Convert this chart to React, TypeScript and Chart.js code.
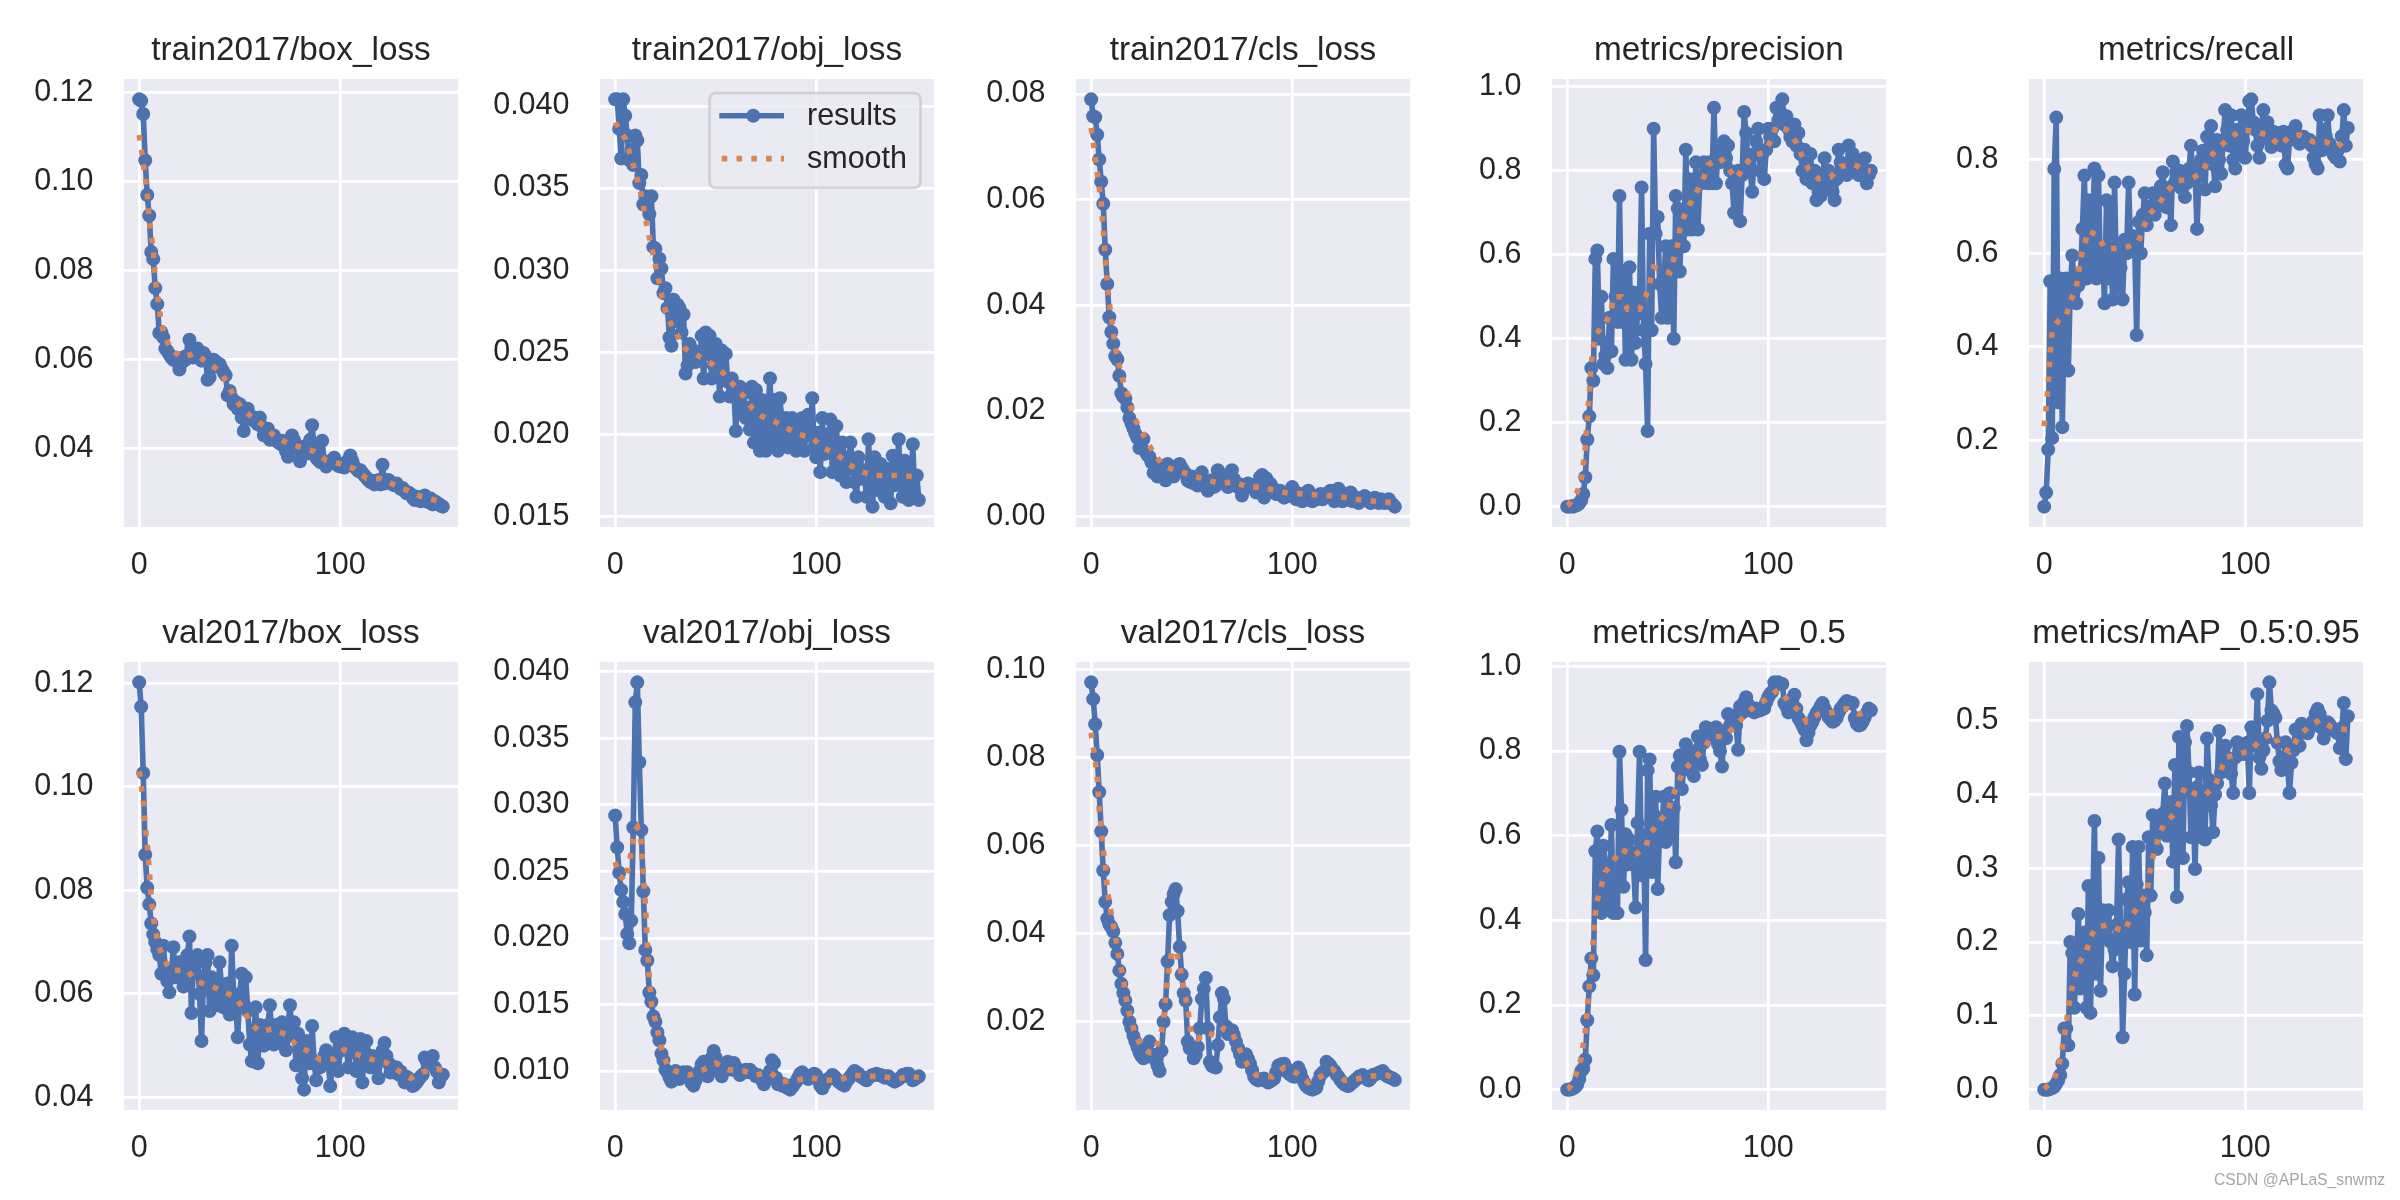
import React, { useEffect, useRef } from 'react';
import { Chart, registerables } from 'chart.js';

Chart.register(...registerables);

// ---------------- data (one value per epoch 0..151) ----------------
const trainBoxLoss = [
  0.1185, 0.1182, 0.1152, 0.1048, 0.0970, 0.0924, 0.0842, 0.0826, 0.0761, 0.0725,
  0.0660, 0.0662, 0.0650, 0.0625, 0.0620, 0.0612, 0.0605, 0.0600, 0.0598, 0.0604,
  0.0578, 0.0592, 0.0605, 0.0600, 0.0610, 0.0645, 0.0628, 0.0605, 0.0620, 0.0625,
  0.0612, 0.0598, 0.0615, 0.0608, 0.0555, 0.0560, 0.0582, 0.0600, 0.0596, 0.0585,
  0.0590, 0.0580, 0.0572, 0.0565, 0.0520, 0.0530, 0.0515, 0.0500, 0.0505, 0.0490,
  0.0500, 0.0470, 0.0440, 0.0480, 0.0490, 0.0475, 0.0465, 0.0470, 0.0460, 0.0455,
  0.0470, 0.0450, 0.0430, 0.0440, 0.0445, 0.0420, 0.0425, 0.0430, 0.0420, 0.0415,
  0.0412, 0.0418, 0.0405, 0.0395, 0.0382, 0.0410, 0.0430, 0.0420, 0.0405, 0.0398,
  0.0372, 0.0385, 0.0405, 0.0395, 0.0390, 0.0420, 0.0453, 0.0400, 0.0380, 0.0375,
  0.0370, 0.0418, 0.0372, 0.0360, 0.0365, 0.0370, 0.0375, 0.0380, 0.0368, 0.0362,
  0.0360, 0.0362, 0.0358, 0.0370, 0.0375, 0.0385, 0.0372, 0.0360, 0.0355, 0.0350,
  0.0352, 0.0345, 0.0340, 0.0335, 0.0330, 0.0325, 0.0328, 0.0320, 0.0325, 0.0330,
  0.0320, 0.0364, 0.0322, 0.0325, 0.0330, 0.0325, 0.0320, 0.0318, 0.0322, 0.0315,
  0.0310, 0.0312, 0.0305, 0.0300, 0.0302, 0.0298, 0.0290, 0.0285, 0.0292, 0.0288,
  0.0282, 0.0290, 0.0295, 0.0285, 0.0280, 0.0288, 0.0275, 0.0282, 0.0278, 0.0276, 0.0272, 0.0270,
];
const trainBoxSmooth = [
  [0, 0.1105], [2, 0.1045], [4, 0.0975], [5, 0.0912], [7, 0.0848], [8, 0.0781], [10, 0.0713],
  [11, 0.0682], [13, 0.065], [16, 0.0622], [21, 0.0606], [28, 0.0614], [34, 0.0593], [40, 0.0575],
  [44, 0.0547], [47, 0.0519], [51, 0.0491], [56, 0.0471], [62, 0.0452], [67, 0.0429], [74, 0.0412],
  [80, 0.0404], [87, 0.0394], [93, 0.0374], [100, 0.0366], [107, 0.0355], [113, 0.0334],
  [120, 0.0333], [126, 0.0321], [133, 0.0307], [140, 0.0293], [147, 0.0285], [151, 0.028],
];

const trainObjLoss = [
  0.0404, 0.0404, 0.0386, 0.0368, 0.0404, 0.0394, 0.0382, 0.0367, 0.0373, 0.0364,
  0.0382, 0.0379, 0.0353, 0.0358, 0.0340, 0.0345, 0.0344, 0.0334, 0.0345, 0.0314,
  0.0313, 0.0295, 0.0307, 0.0301, 0.0286, 0.0289, 0.0277, 0.0259, 0.0254, 0.0282,
  0.0269, 0.0279, 0.0277, 0.0262, 0.0273, 0.0237, 0.0242, 0.0255, 0.0249, 0.0251,
  0.0244, 0.0249, 0.0245, 0.0260, 0.0234, 0.0262, 0.0249, 0.0260, 0.0234, 0.0242,
  0.0255, 0.0245, 0.0223, 0.0251, 0.0234, 0.0249, 0.0232, 0.0223, 0.0234, 0.0227,
  0.0202, 0.0225, 0.0229, 0.0214, 0.0225, 0.0210, 0.0216, 0.0203, 0.0229, 0.0195,
  0.0227, 0.0214, 0.0190, 0.0221, 0.0201, 0.0190, 0.0216, 0.0234, 0.0195, 0.0221,
  0.0208, 0.0190, 0.0222, 0.0205, 0.0197, 0.0210, 0.0192, 0.0203, 0.0210, 0.0199,
  0.0190, 0.0205, 0.0195, 0.0210, 0.0190, 0.0202, 0.0212, 0.0199, 0.0222, 0.0192,
  0.0186, 0.0201, 0.0177, 0.0210, 0.0188, 0.0200, 0.0195, 0.0209, 0.0177, 0.0190,
  0.0205, 0.0184, 0.0175, 0.0195, 0.0186, 0.0171, 0.0179, 0.0195, 0.0184, 0.0171,
  0.0162, 0.0186, 0.0179, 0.0173, 0.0175, 0.0162, 0.0197, 0.0166, 0.0156, 0.0186,
  0.0173, 0.0166, 0.0182, 0.0169, 0.0162, 0.0179, 0.0173, 0.0158, 0.0187, 0.0169,
  0.0175, 0.0197, 0.0169, 0.0162, 0.0184, 0.0179, 0.0160, 0.0164, 0.0194, 0.0162, 0.0175, 0.0160,
];
const trainObjSmooth = [
  [0, 0.039], [1, 0.0388], [5, 0.038], [9, 0.0364], [13, 0.0346], [15, 0.0332], [17, 0.032],
  [20, 0.0303], [22, 0.0292], [24, 0.0279], [27, 0.0269], [31, 0.026], [35, 0.0252], [41, 0.0248],
  [48, 0.0243], [54, 0.0237], [59, 0.023], [64, 0.0223], [68, 0.0216], [73, 0.0211], [79, 0.0208],
  [85, 0.0204], [91, 0.02], [98, 0.0198], [103, 0.0192], [110, 0.0188], [116, 0.0182],
  [121, 0.0178], [128, 0.0175], [135, 0.0175], [142, 0.0175], [151, 0.0174],
];

const trainClsLoss = [
  0.0790, 0.0758, 0.0756, 0.0723, 0.0676, 0.0634, 0.0592, 0.0505, 0.0440, 0.0377,
  0.0349, 0.0327, 0.0303, 0.0297, 0.0266, 0.0233, 0.0226, 0.0223, 0.0206, 0.0186,
  0.0176, 0.0166, 0.0156, 0.0148, 0.0129, 0.0142, 0.0146, 0.0122, 0.0116, 0.0112,
  0.0102, 0.0082, 0.0085, 0.0075, 0.0079, 0.0087, 0.0095, 0.0068, 0.0099, 0.0089,
  0.0082, 0.0075, 0.0090, 0.0095, 0.0099, 0.0092, 0.0085, 0.0080, 0.0068, 0.0065,
  0.0075, 0.0062, 0.0068, 0.0058, 0.0065, 0.0083, 0.0062, 0.0055, 0.0048, 0.0062,
  0.0068, 0.0055, 0.0058, 0.0087, 0.0072, 0.0066, 0.0075, 0.0062, 0.0055, 0.0058,
  0.0087, 0.0070, 0.0062, 0.0055, 0.0060, 0.0039, 0.0052, 0.0055, 0.0062, 0.0058,
  0.0055, 0.0052, 0.0045, 0.0062, 0.0074, 0.0078, 0.0035, 0.0072, 0.0048, 0.0062,
  0.0055, 0.0048, 0.0042, 0.0045, 0.0048, 0.0038, 0.0035, 0.0042, 0.0045, 0.0038,
  0.0055, 0.0048, 0.0032, 0.0035, 0.0042, 0.0028, 0.0035, 0.0045, 0.0048, 0.0038,
  0.0028, 0.0035, 0.0032, 0.0038, 0.0042, 0.0032, 0.0035, 0.0038, 0.0045, 0.0048,
  0.0042, 0.0028, 0.0032, 0.0052, 0.0035, 0.0028, 0.0042, 0.0032, 0.0035, 0.0045,
  0.0028, 0.0032, 0.0035, 0.0025, 0.0032, 0.0035, 0.0038, 0.0032, 0.0028, 0.0025,
  0.0032, 0.0035, 0.0028, 0.0025, 0.0032, 0.0028, 0.0025, 0.0028, 0.0032, 0.0025, 0.0022, 0.0018,
];
const trainClsSmooth = [
  [0, 0.0736], [1, 0.0709], [3, 0.0652], [5, 0.0595], [6, 0.0542], [7, 0.0485], [9, 0.0404],
  [11, 0.035], [12, 0.032], [15, 0.0266], [18, 0.0233], [21, 0.0189], [25, 0.0162], [28, 0.0139],
  [32, 0.0115], [36, 0.0095], [43, 0.0085], [49, 0.0079], [57, 0.0069], [64, 0.0062], [71, 0.0065],
  [78, 0.0055], [85, 0.0055], [92, 0.0048], [99, 0.0043], [107, 0.0042], [113, 0.004],
  [121, 0.0038], [127, 0.0035], [135, 0.003], [142, 0.0028], [151, 0.0025],
];

const precision = [
  0.000, 0.000, 0.001, 0.000, 0.002, 0.004, 0.008, 0.015, 0.030, 0.070,
  0.160, 0.215, 0.330, 0.300, 0.590, 0.610, 0.400, 0.500, 0.340, 0.360,
  0.330, 0.450, 0.370, 0.590, 0.500, 0.440, 0.740, 0.440, 0.560, 0.350,
  0.500, 0.570, 0.350, 0.510, 0.390, 0.460, 0.500, 0.760, 0.420, 0.340,
  0.180, 0.650, 0.420, 0.900, 0.650, 0.690, 0.530, 0.450, 0.530, 0.620,
  0.450, 0.600, 0.620, 0.400, 0.740, 0.710, 0.560, 0.690, 0.620, 0.850,
  0.660, 0.780, 0.660, 0.700, 0.820, 0.660, 0.780, 0.770, 0.820, 0.800,
  0.770, 0.820, 0.770, 0.950, 0.770, 0.840, 0.820, 0.850, 0.870, 0.830,
  0.860, 0.800, 0.770, 0.700, 0.770, 0.800, 0.680, 0.790, 0.940, 0.890,
  0.820, 0.800, 0.750, 0.840, 0.870, 0.900, 0.800, 0.840, 0.780, 0.850,
  0.900, 0.880, 0.900, 0.870, 0.950, 0.920, 0.940, 0.970, 0.910, 0.930,
  0.900, 0.880, 0.870, 0.910, 0.860, 0.890, 0.840, 0.800, 0.850, 0.780,
  0.790, 0.840, 0.770, 0.800, 0.730, 0.750, 0.740, 0.790, 0.830, 0.780,
  0.800, 0.760, 0.750, 0.730, 0.780, 0.850, 0.820, 0.800, 0.810, 0.790,
  0.860, 0.820, 0.840, 0.800, 0.820, 0.790, 0.810, 0.800, 0.830, 0.770, 0.790, 0.800,
];
const precisionSmooth = [
  [0, 0.003], [1, 0.006], [5, 0.035], [7, 0.065], [8, 0.1], [9, 0.14], [10, 0.21], [11, 0.27],
  [12, 0.34], [13, 0.38], [14, 0.41], [19, 0.435], [22, 0.47], [23, 0.5], [27, 0.5], [30, 0.47],
  [36, 0.47], [39, 0.5], [41, 0.53], [43, 0.57], [46, 0.566], [51, 0.557], [53, 0.59], [55, 0.625],
  [56, 0.66], [58, 0.69], [61, 0.72], [65, 0.755], [68, 0.785], [70, 0.814], [76, 0.831],
  [80, 0.806], [84, 0.781], [88, 0.81], [92, 0.835], [98, 0.844], [102, 0.877], [104, 0.907],
  [109, 0.898], [114, 0.867], [117, 0.833], [120, 0.804], [125, 0.781], [131, 0.785], [136, 0.81],
  [142, 0.816], [149, 0.8], [151, 0.8],
];

const recall = [
  0.058, 0.088, 0.180, 0.540, 0.205, 0.780, 0.890, 0.281, 0.546, 0.228,
  0.478, 0.546, 0.349, 0.531, 0.595, 0.523, 0.493, 0.531, 0.550, 0.652,
  0.766, 0.546, 0.713, 0.569, 0.637, 0.781, 0.546, 0.766, 0.550, 0.607,
  0.493, 0.713, 0.546, 0.698, 0.501, 0.751, 0.527, 0.607, 0.569, 0.501,
  0.629, 0.600, 0.751, 0.610, 0.637, 0.620, 0.425, 0.667, 0.600, 0.682,
  0.728, 0.660, 0.682, 0.700, 0.728, 0.682, 0.700, 0.720, 0.743, 0.773,
  0.720, 0.698, 0.740, 0.660, 0.796, 0.751, 0.760, 0.777, 0.740, 0.758,
  0.720, 0.750, 0.780, 0.830, 0.758, 0.780, 0.652, 0.766, 0.800, 0.819,
  0.736, 0.849, 0.800, 0.872, 0.790, 0.743, 0.842, 0.800, 0.770, 0.840,
  0.906, 0.864, 0.830, 0.895, 0.800, 0.781, 0.864, 0.820, 0.895, 0.840,
  0.804, 0.870, 0.925, 0.929, 0.880, 0.864, 0.830, 0.804, 0.870, 0.906,
  0.860, 0.880, 0.842, 0.827, 0.860, 0.850, 0.857, 0.849, 0.830, 0.860,
  0.789, 0.781, 0.842, 0.860, 0.850, 0.872, 0.850, 0.834, 0.840, 0.849,
  0.845, 0.840, 0.842, 0.830, 0.804, 0.790, 0.781, 0.895, 0.820, 0.864,
  0.850, 0.895, 0.834, 0.820, 0.810, 0.804, 0.820, 0.796, 0.850, 0.906, 0.830, 0.868,
];
const recallSmooth = [
  [0, 0.23], [1, 0.27], [2, 0.32], [3, 0.39], [4, 0.436], [7, 0.455], [11, 0.467], [13, 0.497],
  [16, 0.527], [17, 0.558], [18, 0.588], [20, 0.618], [22, 0.648], [27, 0.637], [30, 0.61],
  [35, 0.61], [42, 0.614], [47, 0.626], [49, 0.652], [52, 0.682], [57, 0.705], [61, 0.732],
  [66, 0.755], [73, 0.758], [79, 0.775], [82, 0.804], [87, 0.827], [92, 0.845], [98, 0.864],
  [105, 0.861], [112, 0.851], [117, 0.83], [122, 0.849], [127, 0.853], [134, 0.838], [140, 0.838],
  [146, 0.827], [151, 0.849],
];

const valBoxLoss = [
  0.1202, 0.1155, 0.1027, 0.0869, 0.0805, 0.0773, 0.0736, 0.0715, 0.0700, 0.0686,
  0.0675, 0.0639, 0.0693, 0.0650, 0.0625, 0.0603, 0.0640, 0.0690, 0.0632, 0.0645,
  0.0661, 0.0630, 0.0614, 0.0650, 0.0675, 0.0711, 0.0563, 0.0661, 0.0640, 0.0675,
  0.0600, 0.0509, 0.0632, 0.0660, 0.0675, 0.0567, 0.0632, 0.0600, 0.0620, 0.0578,
  0.0661, 0.0610, 0.0574, 0.0600, 0.0620, 0.0560, 0.0693, 0.0596, 0.0580, 0.0516,
  0.0600, 0.0639, 0.0580, 0.0632, 0.0567, 0.0502, 0.0470, 0.0530, 0.0574, 0.0466,
  0.0540, 0.0531, 0.0500, 0.0509, 0.0540, 0.0578, 0.0520, 0.0502, 0.0540, 0.0523,
  0.0530, 0.0545, 0.0510, 0.0491, 0.0540, 0.0578, 0.0520, 0.0545, 0.0462, 0.0523,
  0.0500, 0.0437, 0.0415, 0.0509, 0.0480, 0.0466, 0.0538, 0.0470, 0.0433, 0.0460,
  0.0458, 0.0470, 0.0480, 0.0491, 0.0470, 0.0422, 0.0460, 0.0477, 0.0516, 0.0451,
  0.0490, 0.0513, 0.0523, 0.0500, 0.0458, 0.0487, 0.0516, 0.0500, 0.0451, 0.0490,
  0.0513, 0.0429, 0.0490, 0.0509, 0.0470, 0.0458, 0.0480, 0.0460, 0.0470, 0.0437,
  0.0473, 0.0490, 0.0505, 0.0480, 0.0466, 0.0448, 0.0460, 0.0450, 0.0458, 0.0444,
  0.0450, 0.0440, 0.0429, 0.0440, 0.0437, 0.0430, 0.0422, 0.0425, 0.0429, 0.0435,
  0.0440, 0.0444, 0.0477, 0.0470, 0.0466, 0.0475, 0.0480, 0.0458, 0.0450, 0.0429, 0.0440, 0.0444,
];
const valBoxSmooth = [
  [0, 0.103], [1, 0.1004], [2, 0.0975], [3, 0.0925], [4, 0.089], [5, 0.084], [6, 0.0785],
  [7, 0.0749], [8, 0.0725], [10, 0.069], [12, 0.0668], [16, 0.0645], [24, 0.0646], [28, 0.0625],
  [35, 0.0616], [42, 0.0605], [48, 0.0593], [52, 0.057], [55, 0.0544], [60, 0.0527], [66, 0.0532],
  [73, 0.0522], [78, 0.0502], [84, 0.0489], [90, 0.0473], [97, 0.0474], [102, 0.0492],
  [109, 0.0482], [116, 0.0473], [123, 0.0467], [129, 0.0451], [135, 0.0437], [141, 0.0449],
  [148, 0.0455], [151, 0.0452],
];

const valObjLoss = [
  0.0292, 0.0268, 0.0249, 0.0236, 0.0227, 0.0218, 0.0203, 0.0196, 0.0213, 0.0283,
  0.0377, 0.0392, 0.0332, 0.0281, 0.0235, 0.0191, 0.0183, 0.0159, 0.0152, 0.0141,
  0.0137, 0.0129, 0.0123, 0.0113, 0.0108, 0.0101, 0.0099, 0.0095, 0.0092, 0.0096,
  0.0100, 0.0097, 0.0094, 0.0096, 0.0099, 0.0097, 0.0099, 0.0095, 0.0091, 0.0089,
  0.0093, 0.0097, 0.0100, 0.0105, 0.0107, 0.0100, 0.0096, 0.0103, 0.0110, 0.0115,
  0.0110, 0.0104, 0.0099, 0.0096, 0.0100, 0.0103, 0.0107, 0.0104, 0.0101, 0.0106,
  0.0103, 0.0100, 0.0097, 0.0099, 0.0100, 0.0101, 0.0099, 0.0101, 0.0099, 0.0098,
  0.0096, 0.0097, 0.0095, 0.0093, 0.0090, 0.0094, 0.0097, 0.0100, 0.0108, 0.0106,
  0.0095, 0.0090, 0.0091, 0.0089, 0.0090, 0.0088, 0.0087, 0.0086, 0.0088, 0.0090,
  0.0092, 0.0095, 0.0098, 0.0099, 0.0097, 0.0095, 0.0094, 0.0096, 0.0097, 0.0098,
  0.0097, 0.0093, 0.0089, 0.0087, 0.0090, 0.0093, 0.0094, 0.0095, 0.0097, 0.0096,
  0.0094, 0.0092, 0.0091, 0.0090, 0.0089, 0.0092, 0.0094, 0.0096, 0.0098, 0.0100,
  0.0099, 0.0098, 0.0096, 0.0095, 0.0094, 0.0093, 0.0095, 0.0096, 0.0097, 0.0097,
  0.0098, 0.0097, 0.0097, 0.0096, 0.0095, 0.0096, 0.0096, 0.0094, 0.0093, 0.0092,
  0.0093, 0.0094, 0.0095, 0.0097, 0.0097, 0.0098, 0.0098, 0.0096, 0.0093, 0.0094, 0.0095, 0.0096,
];
const valObjSmooth = [
  [0, 0.0257], [2, 0.0247], [5, 0.0243], [7, 0.0255], [8, 0.0266], [10, 0.0281], [11, 0.0283],
  [13, 0.0271], [14, 0.0249], [15, 0.0226], [16, 0.0193], [17, 0.017], [18, 0.0151], [21, 0.0131],
  [23, 0.0117], [26, 0.0104], [30, 0.01], [37, 0.0097], [44, 0.0101], [50, 0.0106], [56, 0.0101],
  [64, 0.01], [70, 0.0097], [77, 0.0099], [83, 0.0092], [90, 0.0093], [97, 0.0095], [104, 0.0093],
  [111, 0.0093], [118, 0.0097], [125, 0.0096], [133, 0.0096], [140, 0.0094], [147, 0.0096],
  [151, 0.0095],
];

const valClsLoss = [
  0.0970, 0.0932, 0.0875, 0.0805, 0.0721, 0.0632, 0.0543, 0.0472, 0.0434, 0.0421,
  0.0415, 0.0405, 0.0379, 0.0354, 0.0316, 0.0286, 0.0265, 0.0248, 0.0225, 0.0200,
  0.0185, 0.0168, 0.0155, 0.0143, 0.0130, 0.0122, 0.0117, 0.0125, 0.0134, 0.0155,
  0.0126, 0.0120, 0.0113, 0.0100, 0.0088, 0.0134, 0.0200, 0.0240, 0.0337, 0.0442,
  0.0472, 0.0490, 0.0501, 0.0451, 0.0370, 0.0307, 0.0265, 0.0248, 0.0155, 0.0140,
  0.0138, 0.0117, 0.0125, 0.0143, 0.0185, 0.0252, 0.0275, 0.0299, 0.0185, 0.0109,
  0.0100, 0.0098, 0.0096, 0.0147, 0.0210, 0.0265, 0.0252, 0.0190, 0.0172, 0.0175,
  0.0181, 0.0170, 0.0155, 0.0140, 0.0126, 0.0109, 0.0115, 0.0126, 0.0115, 0.0105,
  0.0090, 0.0075, 0.0070, 0.0067, 0.0068, 0.0070, 0.0071, 0.0066, 0.0062, 0.0065,
  0.0068, 0.0071, 0.0085, 0.0100, 0.0102, 0.0104, 0.0105, 0.0095, 0.0084, 0.0080,
  0.0077, 0.0075, 0.0085, 0.0096, 0.0085, 0.0071, 0.0062, 0.0054, 0.0050, 0.0048,
  0.0046, 0.0048, 0.0050, 0.0065, 0.0079, 0.0084, 0.0088, 0.0109, 0.0105, 0.0100,
  0.0092, 0.0088, 0.0080, 0.0075, 0.0068, 0.0062, 0.0058, 0.0055, 0.0054, 0.0058,
  0.0062, 0.0066, 0.0070, 0.0075, 0.0077, 0.0079, 0.0075, 0.0070, 0.0067, 0.0072,
  0.0079, 0.0080, 0.0082, 0.0084, 0.0086, 0.0088, 0.0082, 0.0077, 0.0075, 0.0073, 0.0071, 0.0068,
];
const valClsSmooth = [
  [0, 0.0856], [1, 0.0822], [2, 0.079], [3, 0.0757], [4, 0.068], [5, 0.064], [6, 0.059],
  [7, 0.0559], [8, 0.05], [9, 0.047], [11, 0.042], [12, 0.0396], [13, 0.0365], [15, 0.032],
  [16, 0.0299], [17, 0.0265], [18, 0.0235], [20, 0.0202], [22, 0.017], [25, 0.0143], [29, 0.013],
  [31, 0.013], [34, 0.0161], [36, 0.02], [37, 0.0261], [38, 0.0295], [39, 0.033], [40, 0.0358],
  [42, 0.0362], [44, 0.0328], [45, 0.03], [47, 0.0255], [48, 0.0231], [49, 0.0197], [50, 0.017],
  [53, 0.0161], [57, 0.0176], [62, 0.0168], [66, 0.0185], [70, 0.0176], [72, 0.0155], [75, 0.0126],
  [78, 0.01], [82, 0.0079], [90, 0.0075], [96, 0.0096], [102, 0.0084], [108, 0.0062], [114, 0.0075],
  [120, 0.0092], [126, 0.0067], [133, 0.0071], [140, 0.0077], [147, 0.0079], [151, 0.0072],
];

const map50 = [
  0.000, 0.000, 0.001, 0.003, 0.006, 0.012, 0.025, 0.044, 0.050, 0.071,
  0.164, 0.244, 0.310, 0.270, 0.563, 0.610, 0.426, 0.417, 0.576, 0.532,
  0.426, 0.470, 0.625, 0.417, 0.520, 0.417, 0.798, 0.661, 0.479, 0.603,
  0.532, 0.590, 0.560, 0.532, 0.430, 0.630, 0.798, 0.506, 0.600, 0.306,
  0.754, 0.780, 0.514, 0.650, 0.692, 0.474, 0.621, 0.600, 0.692, 0.585,
  0.650, 0.700, 0.600, 0.665, 0.537, 0.763, 0.789, 0.710, 0.760, 0.816,
  0.780, 0.754, 0.790, 0.741, 0.800, 0.834, 0.780, 0.767, 0.820, 0.856,
  0.834, 0.845, 0.851, 0.830, 0.856, 0.816, 0.800, 0.763, 0.847, 0.830,
  0.887, 0.860, 0.883, 0.870, 0.860, 0.803, 0.905, 0.890, 0.915, 0.927,
  0.910, 0.896, 0.900, 0.891, 0.900, 0.895, 0.896, 0.900, 0.900, 0.915,
  0.927, 0.935, 0.940, 0.962, 0.960, 0.962, 0.958, 0.958, 0.913, 0.905,
  0.891, 0.900, 0.922, 0.933, 0.900, 0.878, 0.870, 0.860, 0.850, 0.825,
  0.843, 0.860, 0.869, 0.880, 0.890, 0.896, 0.905, 0.913, 0.900, 0.891,
  0.880, 0.875, 0.869, 0.872, 0.878, 0.890, 0.900, 0.905, 0.912, 0.918,
  0.915, 0.913, 0.913, 0.878, 0.865, 0.860, 0.862, 0.869, 0.880, 0.890, 0.900, 0.896,
];
const map50Smooth = [
  [0, 0.002], [1, 0.004], [4, 0.031], [7, 0.075], [8, 0.106], [9, 0.137], [10, 0.19], [11, 0.244],
  [12, 0.29], [13, 0.36], [14, 0.417], [15, 0.448], [17, 0.483], [19, 0.514], [23, 0.541],
  [27, 0.568], [33, 0.552], [39, 0.572], [41, 0.603], [46, 0.634], [50, 0.656], [52, 0.687],
  [55, 0.723], [58, 0.754], [63, 0.78], [68, 0.807], [72, 0.834], [78, 0.834], [83, 0.856],
  [88, 0.882], [93, 0.905], [99, 0.922], [105, 0.945], [110, 0.918], [115, 0.896], [119, 0.869],
  [125, 0.887], [132, 0.891], [139, 0.9], [145, 0.887], [151, 0.891],
];

const map5095 = [
  0.000, 0.000, 0.000, 0.001, 0.002, 0.004, 0.008, 0.013, 0.020, 0.035,
  0.083, 0.083, 0.060, 0.200, 0.185, 0.111, 0.172, 0.238, 0.137, 0.180,
  0.213, 0.111, 0.276, 0.104, 0.223, 0.364, 0.157, 0.314, 0.134, 0.243,
  0.220, 0.207, 0.243, 0.200, 0.167, 0.190, 0.223, 0.339, 0.218, 0.071,
  0.157, 0.258, 0.281, 0.200, 0.329, 0.129, 0.278, 0.329, 0.202, 0.263,
  0.240, 0.182, 0.342, 0.263, 0.372, 0.330, 0.326, 0.349, 0.360, 0.374,
  0.415, 0.344, 0.380, 0.390, 0.309, 0.440, 0.261, 0.478, 0.420, 0.314,
  0.471, 0.493, 0.430, 0.342, 0.400, 0.299, 0.410, 0.430, 0.342, 0.400,
  0.339, 0.476, 0.420, 0.385, 0.349, 0.400, 0.415, 0.486, 0.430, 0.450,
  0.466, 0.450, 0.440, 0.428, 0.402, 0.450, 0.471, 0.460, 0.455, 0.460,
  0.455, 0.470, 0.402, 0.491, 0.480, 0.466, 0.536, 0.450, 0.435, 0.460,
  0.476, 0.500, 0.552, 0.514, 0.510, 0.504, 0.470, 0.445, 0.433, 0.450,
  0.471, 0.440, 0.402, 0.443, 0.460, 0.488, 0.470, 0.466, 0.496, 0.490,
  0.485, 0.483, 0.490, 0.496, 0.500, 0.510, 0.516, 0.509, 0.490, 0.476,
  0.490, 0.498, 0.495, 0.491, 0.488, 0.485, 0.483, 0.463, 0.490, 0.524, 0.448, 0.506,
];
const map5095Smooth = [
  [0, 0.001], [5, 0.015], [7, 0.03], [9, 0.056], [10, 0.073], [11, 0.09], [12, 0.108], [13, 0.128],
  [15, 0.152], [17, 0.17], [21, 0.187], [23, 0.207], [26, 0.22], [31, 0.223], [34, 0.22], [40, 0.215],
  [43, 0.233], [47, 0.249], [51, 0.266], [52, 0.283], [53, 0.304], [55, 0.324], [57, 0.344],
  [60, 0.362], [65, 0.374], [70, 0.41], [75, 0.401], [80, 0.399], [85, 0.412], [88, 0.433],
  [90, 0.45], [97, 0.455], [103, 0.46], [108, 0.476], [114, 0.483], [117, 0.466], [122, 0.458],
  [126, 0.476], [131, 0.491], [137, 0.501], [143, 0.491], [150, 0.488], [151, 0.488],
];

// tick values shown on each y axis, and the x ticks
const trainBoxTicks = [0.04, 0.06, 0.08, 0.10, 0.12];
const trainObjTicks = [0.015, 0.020, 0.025, 0.030, 0.035, 0.040];
const trainClsTicks = [0.00, 0.02, 0.04, 0.06, 0.08];
const precisionTicks = [0.0, 0.2, 0.4, 0.6, 0.8, 1.0];
const recallTicks = [0.2, 0.4, 0.6, 0.8];
const valBoxTicks = [0.04, 0.06, 0.08, 0.10, 0.12];
const valObjTicks = [0.010, 0.015, 0.020, 0.025, 0.030, 0.035, 0.040];
const valClsTicks = [0.02, 0.04, 0.06, 0.08, 0.10];
const map50Ticks = [0.0, 0.2, 0.4, 0.6, 0.8, 1.0];
const map5095Ticks = [0.0, 0.1, 0.2, 0.3, 0.4, 0.5];
const xTicks = [0, 100];
const legendLabels = ['results', 'smooth'];

type Panel = { title: string; results: number[]; smooth: number[][]; ticks: number[]; dec: number; legend?: boolean };

const panels: Panel[] = [
  { title: 'train2017/box_loss', results: trainBoxLoss, smooth: trainBoxSmooth, ticks: trainBoxTicks, dec: 2 },
  { title: 'train2017/obj_loss', results: trainObjLoss, smooth: trainObjSmooth, ticks: trainObjTicks, dec: 3, legend: true },
  { title: 'train2017/cls_loss', results: trainClsLoss, smooth: trainClsSmooth, ticks: trainClsTicks, dec: 2 },
  { title: 'metrics/precision', results: precision, smooth: precisionSmooth, ticks: precisionTicks, dec: 1 },
  { title: 'metrics/recall', results: recall, smooth: recallSmooth, ticks: recallTicks, dec: 1 },
  { title: 'val2017/box_loss', results: valBoxLoss, smooth: valBoxSmooth, ticks: valBoxTicks, dec: 2 },
  { title: 'val2017/obj_loss', results: valObjLoss, smooth: valObjSmooth, ticks: valObjTicks, dec: 3 },
  { title: 'val2017/cls_loss', results: valClsLoss, smooth: valClsSmooth, ticks: valClsTicks, dec: 2 },
  { title: 'metrics/mAP_0.5', results: map50, smooth: map50Smooth, ticks: map50Ticks, dec: 1 },
  { title: 'metrics/mAP_0.5:0.95', results: map5095, smooth: map5095Smooth, ticks: map5095Ticks, dec: 1 },
];

// ---------------- layout & style ----------------
const COL_LEFT = [124, 600, 1076, 1552, 2029];
const ROW_TOP = [79, 662];
const PLOT_W = 334;
const PLOT_H = 448;
const Y_AXIS_W = 120;
const TOP_PAD = 60;
const X_AXIS_H = 70;
const RIGHT_PAD = 10;
const CANVAS_W = Y_AXIS_W + PLOT_W + RIGHT_PAD;
const CANVAS_H = TOP_PAD + PLOT_H + X_AXIS_H;

const BLUE = '#4C72B0';
const ORANGE = '#DD8452';
const AX_BG = '#EAEAF2';
const TEXT = '#262626';
const FONT_FAMILY = '"Liberation Sans", Arial, Helvetica, sans-serif';
const TICK_SIZE = 30.5;
const TITLE_SIZE = 33.3;
const LW = 5.6;

const bgPlugin = {
  id: 'axesBg',
  beforeDraw(chart: any) {
    const { ctx, chartArea } = chart;
    ctx.save();
    ctx.fillStyle = AX_BG;
    ctx.fillRect(chartArea.left, chartArea.top, chartArea.right - chartArea.left, chartArea.bottom - chartArea.top);
    ctx.restore();
  },
};

const legendPlugin = {
  id: 'boxLegend',
  afterDatasetsDraw(chart: any) {
    const { ctx, chartArea } = chart;
    const L = chartArea.left;
    const T = chartArea.top;
    const x = L + 109.5, y = T + 14.2, w = 211, h = 94.7, r = 7;
    ctx.save();
    ctx.beginPath();
    ctx.moveTo(x + r, y);
    ctx.lineTo(x + w - r, y);
    ctx.quadraticCurveTo(x + w, y, x + w, y + r);
    ctx.lineTo(x + w, y + h - r);
    ctx.quadraticCurveTo(x + w, y + h, x + w - r, y + h);
    ctx.lineTo(x + r, y + h);
    ctx.quadraticCurveTo(x, y + h, x, y + h - r);
    ctx.lineTo(x, y + r);
    ctx.quadraticCurveTo(x, y, x + r, y);
    ctx.closePath();
    ctx.fillStyle = 'rgba(234,234,242,0.8)';
    ctx.fill();
    ctx.lineWidth = 2.8;
    ctx.strokeStyle = 'rgba(204,204,204,0.8)';
    ctx.stroke();

    const y1 = T + 36.7;
    const y2 = T + 79.6;
    ctx.lineCap = 'butt';
    ctx.lineWidth = LW;
    ctx.strokeStyle = BLUE;
    ctx.beginPath();
    ctx.moveTo(L + 119.3, y1);
    ctx.lineTo(L + 184, y1);
    ctx.stroke();
    ctx.fillStyle = BLUE;
    ctx.beginPath();
    ctx.arc(L + 153.3, y1, 7, 0, Math.PI * 2);
    ctx.fill();

    ctx.strokeStyle = ORANGE;
    ctx.setLineDash([5.6, 9.2]);
    ctx.beginPath();
    ctx.moveTo(L + 121.7, y2);
    ctx.lineTo(L + 184, y2);
    ctx.stroke();
    ctx.setLineDash([]);

    ctx.fillStyle = TEXT;
    ctx.font = `${TICK_SIZE}px ${FONT_FAMILY}`;
    ctx.textBaseline = 'middle';
    ctx.textAlign = 'left';
    ctx.fillText(legendLabels[0], L + 207, T + 37.4);
    ctx.fillText(legendLabels[1], L + 207, T + 80.3);
    ctx.restore();
  },
};

function ChartPanel({ panel, left, top }: { panel: Panel; left: number; top: number }) {
  const ref = useRef<HTMLCanvasElement | null>(null);

  useEffect(() => {
    const canvas = ref.current;
    if (!canvas) return;
    const allY = [...panel.results, ...panel.smooth.map((p) => p[1])];
    const lo = Math.min(...allY);
    const hi = Math.max(...allY);
    const ym = (hi - lo) * 0.05;
    const yMin = lo - ym;
    const yMax = hi + ym;
    const xHi = panel.results.length - 1;
    const xm = xHi * 0.05;
    const yTicks = panel.ticks.filter((t) => t >= yMin - 1e-9 && t <= yMax + 1e-9);
    const tickFont = { family: FONT_FAMILY, size: TICK_SIZE };

    const chart = new Chart(canvas, {
      type: 'line',
      data: {
        datasets: [
          {
            label: legendLabels[0],
            data: panel.results.map((v, i) => ({ x: i, y: v })),
            borderColor: BLUE,
            backgroundColor: BLUE,
            borderWidth: LW,
            borderJoinStyle: 'round',
            pointRadius: 7,
            pointHoverRadius: 7,
            pointBorderWidth: 0,
            pointBackgroundColor: BLUE,
            tension: 0,
            fill: false,
            order: 1,
          },
          {
            label: legendLabels[1],
            data: panel.smooth.map(([x, y]) => ({ x, y })),
            borderColor: ORANGE,
            borderWidth: LW,
            borderDash: [5.6, 9.2],
            borderCapStyle: 'butt',
            pointRadius: 0,
            tension: 0,
            fill: false,
            order: 0,
          },
        ],
      } as any,
      options: {
        responsive: false,
        maintainAspectRatio: false,
        animation: false,
        devicePixelRatio: 1,
        events: [],
        layout: { padding: { top: TOP_PAD, right: RIGHT_PAD, left: 0, bottom: 0 } },
        plugins: {
          legend: { display: false },
          tooltip: { enabled: false },
          title: { display: false },
        },
        scales: {
          x: {
            type: 'linear',
            min: -xm,
            max: xHi + xm,
            afterBuildTicks: (s: any) => {
              s.ticks = xTicks.map((v) => ({ value: v }));
            },
            afterFit: (s: any) => {
              s.height = X_AXIS_H;
              s.paddingLeft = 0;
              s.paddingRight = 0;
            },
            grid: { color: '#ffffff', lineWidth: 2.8, drawTicks: false },
            border: { display: false },
            ticks: {
              font: tickFont,
              color: TEXT,
              padding: 20,
              autoSkip: false,
              maxRotation: 0,
              callback: (v: any) => String(v),
            },
          },
          y: {
            type: 'linear',
            min: yMin,
            max: yMax,
            afterBuildTicks: (s: any) => {
              s.ticks = yTicks.map((v) => ({ value: v }));
            },
            afterFit: (s: any) => {
              s.width = Y_AXIS_W;
              s.paddingTop = 0;
              s.paddingBottom = 0;
            },
            grid: { color: '#ffffff', lineWidth: 2.8, drawTicks: false },
            border: { display: false },
            ticks: {
              font: tickFont,
              color: TEXT,
              padding: 30.5,
              autoSkip: false,
              callback: (v: any) => Number(v).toFixed(panel.dec),
            },
          },
        },
      } as any,
      plugins: panel.legend ? [bgPlugin, legendPlugin] : [bgPlugin],
    });

    const fonts = (document as any).fonts;
    if (fonts && fonts.ready) {
      fonts.ready.then(() => {
        try { chart.update(); } catch (e) { /* destroyed */ }
      });
    }
    return () => chart.destroy();
  }, [panel]);

  return (
    <canvas
      ref={ref}
      width={CANVAS_W}
      height={CANVAS_H}
      style={{ position: 'absolute', left: left - Y_AXIS_W, top: top - TOP_PAD, width: CANVAS_W, height: CANVAS_H }}
    />
  );
}

export default function App() {
  return (
    <div
      style={{
        position: 'absolute',
        left: 0,
        top: 0,
        width: 2400,
        height: 1200,
        background: '#ffffff',
        overflow: 'hidden',
        fontFamily: FONT_FAMILY,
      }}
    >
      {panels.map((p, i) => {
        const left = COL_LEFT[i % 5];
        const top = ROW_TOP[Math.floor(i / 5)];
        return (
          <React.Fragment key={p.title}>
            <ChartPanel panel={p} left={left} top={top} />
            <div
              style={{
                position: 'absolute',
                left: left + PLOT_W / 2 - 300,
                width: 600,
                top: top - 30.5 - 20,
                height: 40,
                lineHeight: '40px',
                fontSize: TITLE_SIZE,
                color: TEXT,
                textAlign: 'center',
                whiteSpace: 'nowrap',
              }}
            >
              {p.title}
            </div>
          </React.Fragment>
        );
      })}
      <div
        style={{
          position: 'absolute',
          left: 2214,
          top: 1170,
          height: 20,
          lineHeight: '20px',
          fontSize: 15.7,
          color: '#a6a6a6',
          whiteSpace: 'nowrap',
        }}
      >
        CSDN @APLaS_snwmz
      </div>
    </div>
  );
}
